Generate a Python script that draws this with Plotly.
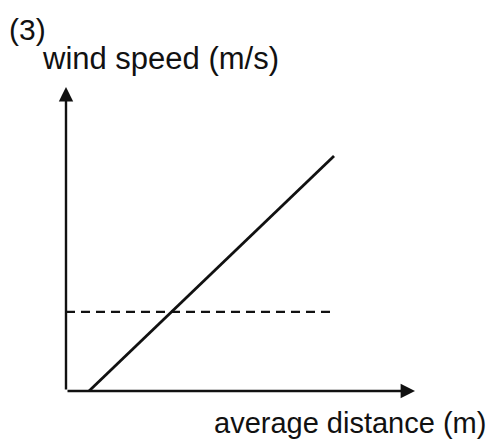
import plotly.graph_objects as go

W, H = 499, 445
OFF = 8  # default page margin of the html body

# Data (arbitrary units)
solid_x = [0.66, 7.68]
solid_y = [0.0, 7.73]
dashed_x = [0.0, 7.62]
dashed_y = [2.6, 2.6]
x_range = [0, 10]
y_range = [0, 10]

title_label = "(3)"
y_label = "wind speed (m/s)"
x_label = "average distance (m)"

FONT = "Arial, Liberation Sans, sans-serif"
INK = "#111111"

FW, FH = W - OFF, H - OFF

# plot area in window pixels
left, right, top, bottom = 66, 415, 87, 391

fig = go.Figure()
fig.add_trace(go.Scatter(x=solid_x, y=solid_y, mode="lines",
                         line=dict(color=INK, width=2.8), showlegend=False))
fig.add_trace(go.Scatter(x=dashed_x, y=dashed_y, mode="lines",
                         line=dict(color=INK, width=2.2, dash="9px,6px"), showlegend=False))

def px(x):
    return (x - OFF) / FW

def py(y):
    return 1 - (y - OFF) / FH

annotations = [
    dict(x=x_range[1], y=0, ax=0, ay=0, xref="x", yref="y", axref="x", ayref="y",
         text="", showarrow=True, arrowhead=2, arrowsize=1.2, arrowwidth=2.4, arrowcolor=INK, standoff=0),
    dict(x=0, y=y_range[1], ax=0, ay=0, xref="x", yref="y", axref="x", ayref="y",
         text="", showarrow=True, arrowhead=2, arrowsize=1.2, arrowwidth=2.4, arrowcolor=INK, standoff=0),
    dict(x=px(7), y=py(30), xref="paper", yref="paper", xanchor="left", yanchor="middle",
         text=title_label, showarrow=False, font=dict(family=FONT, size=30, color=INK)),
    dict(x=px(40), y=py(59), xref="paper", yref="paper", xanchor="left", yanchor="middle",
         text=y_label, showarrow=False, font=dict(family=FONT, size=31, color=INK)),
    dict(x=px(212), y=py(423), xref="paper", yref="paper", xanchor="left", yanchor="middle",
         text=x_label, showarrow=False, font=dict(family=FONT, size=29, color=INK)),
]

fig.update_layout(
    width=FW, height=FH,
    margin=dict(l=0, r=0, t=0, b=0),
    paper_bgcolor="white", plot_bgcolor="white",
    xaxis=dict(range=x_range, domain=[px(left), px(right)], visible=False),
    yaxis=dict(range=y_range, domain=[py(bottom), py(top)], visible=False),
    annotations=annotations,
    showlegend=False,
)

fig.write_html("out.html")
